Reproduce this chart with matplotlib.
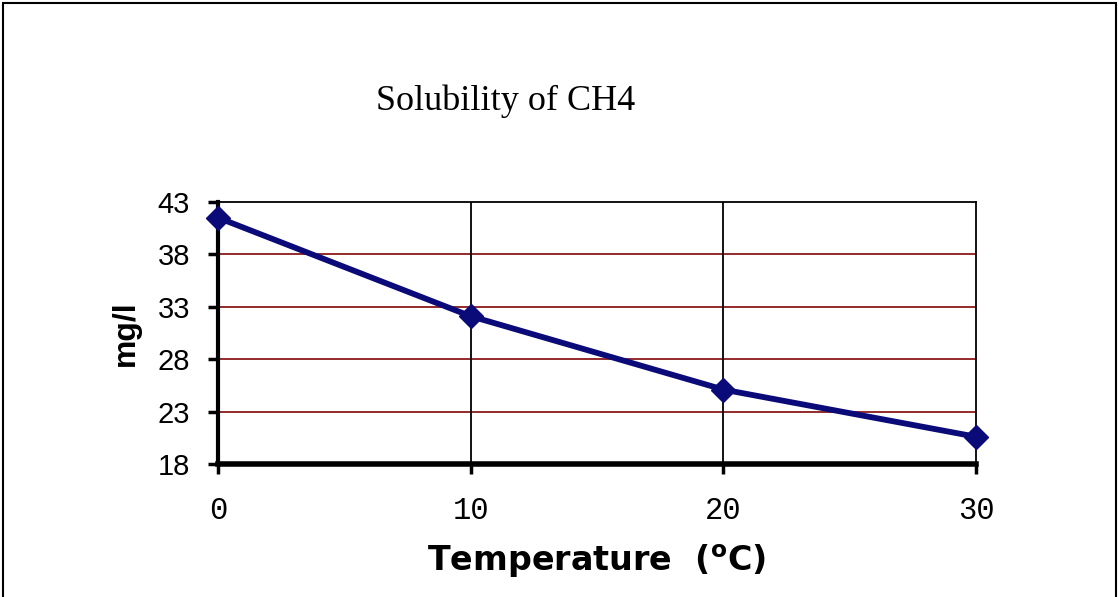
import matplotlib
matplotlib.use("Agg")
import matplotlib.pyplot as plt
from matplotlib.patches import Rectangle

# Data
temperature = [0, 10, 20, 30]
solubility = [41.5, 32.1, 25.1, 20.6]
y_ticks = [18, 23, 28, 33, 38, 43]
x_ticks = [0, 10, 20, 30]

NAVY = "#0A0A78"
GRID_RED = "#8B1A1A"

plt.rcParams["font.family"] = ["Liberation Sans", "DejaVu Sans"]

fig = plt.figure(figsize=(11.19, 5.97), dpi=100)
ax = fig.add_axes([0.1948, 0.2228, 0.6774, 0.4389])

ax.plot(temperature, solubility, color=NAVY, linewidth=4.2,
        marker="D", markersize=12, markerfacecolor=NAVY,
        markeredgecolor=NAVY, clip_on=False, zorder=5)

ax.set_xlim(0, 30)
ax.set_ylim(18, 43)
ax.set_xticks(x_ticks)
ax.set_yticks(y_ticks)

# horizontal red grid, vertical black grid
for y in y_ticks[1:-1]:
    ax.axhline(y, color=GRID_RED, linewidth=1.3, zorder=1)
for x in x_ticks[1:-1]:
    ax.axvline(x, color="black", linewidth=1.3, zorder=1)

ax.spines["left"].set_linewidth(3)
ax.spines["bottom"].set_linewidth(4)
ax.spines["top"].set_linewidth(1.3)
ax.spines["right"].set_linewidth(1.3)

ax.tick_params(axis="y", direction="out", length=7, width=2.5, pad=13,
               labelsize=21)
ax.tick_params(axis="x", direction="out", length=7, width=2.5, pad=16,
               labelsize=22, labelfontfamily="Liberation Mono")

ax.set_ylabel("mg/l", fontsize=23, fontweight="bold", labelpad=12)
ax.set_xlabel(r"Temperature  ($^{\mathbf{o}}$C)", fontsize=24,
              fontweight="bold", family="DejaVu Sans", labelpad=12)

fig.text(0.452, 0.83, "Solubility of CH4", fontsize=26,
         family="Liberation Serif", ha="center", va="center")

# outer frame around the picture
fig.patches.append(Rectangle((0.003, -0.01), 0.994, 1.005,
                             transform=fig.transFigure, fill=False,
                             edgecolor="black", linewidth=1.5))

fig.savefig("out.png", dpi=100, facecolor="white")
